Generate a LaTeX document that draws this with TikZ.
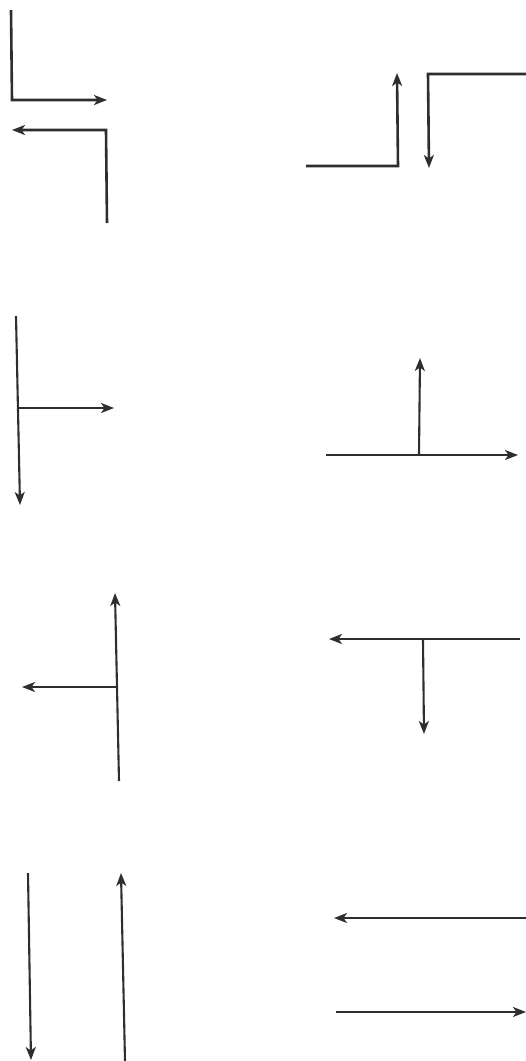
\documentclass[tikz,border=0pt]{standalone}
\usetikzlibrary{arrows.meta}

\begin{document}
\begin{tikzpicture}[
  x=1pt, y=-1pt,
  >={Stealth[length=13pt, width=10pt, inset=3.5pt]},
  % connector styles
  flow/.style={->, draw=black!82, line width=2.6pt, line join=miter},
  thinflow/.style={flow, line width=2.1pt}
]
  \useasboundingbox (0,0) rectangle (526,1061);

  % =============================================================
  % Row 1 -- corners
  % =============================================================
  % left: down then right, up then left
  \coordinate (cornAtop)   at (11,10);
  \coordinate (cornAbend)  at (12,100);
  \coordinate (cornAend)   at (107,100);
  \coordinate (cornBstart) at (107,223);
  \coordinate (cornBbend)  at (106,130);
  \coordinate (cornBend)   at (12,130);
  \draw[flow] (cornAtop) -- (cornAbend) -- (cornAend);
  \draw[flow] (cornBstart) -- (cornBbend) -- (cornBend);

  % right: right then up, left then down
  \coordinate (stepAstart) at (306,166);
  \coordinate (stepAbend)  at (398,166);
  \coordinate (stepAend)   at (397,73);
  \coordinate (stepBstart) at (526,74);
  \coordinate (stepBbend)  at (428,74);
  \coordinate (stepBend)   at (429,168);
  \draw[flow] (stepAstart) -- (stepAbend) -- (stepAend);
  \draw[flow] (stepBstart) -- (stepBbend) -- (stepBend);

  % =============================================================
  % Row 2 -- branches
  % =============================================================
  % left: vertical down, branch right
  \coordinate (teeAtop)    at (16,316);
  \coordinate (teeAbot)    at (20,505);
  \coordinate (teeAfork)   at (18,408);
  \coordinate (teeAtip)    at (114,408);
  \draw[thinflow] (teeAtop) -- (teeAbot);
  \draw[thinflow] (teeAfork) -- (teeAtip);

  % right: horizontal right, branch up
  \coordinate (teeBstart)  at (326,455);
  \coordinate (teeBend)    at (518,455);
  \coordinate (teeBfork)   at (419,455);
  \coordinate (teeBtip)    at (420,358);
  \draw[thinflow] (teeBstart) -- (teeBend);
  \draw[thinflow] (teeBfork) -- (teeBtip);

  % =============================================================
  % Row 3 -- branches
  % =============================================================
  % left: vertical up, branch left
  \coordinate (teeCbot)    at (119,781);
  \coordinate (teeCtop)    at (115,593);
  \coordinate (teeCfork)   at (117,687);
  \coordinate (teeCtip)    at (22,687);
  \draw[thinflow] (teeCbot) -- (teeCtop);
  \draw[thinflow] (teeCfork) -- (teeCtip);

  % right: horizontal left, branch down
  \coordinate (teeDstart)  at (520,639);
  \coordinate (teeDend)    at (329,639);
  \coordinate (teeDfork)   at (423,639);
  \coordinate (teeDtip)    at (424,734);
  \draw[thinflow] (teeDstart) -- (teeDend);
  \draw[thinflow] (teeDfork) -- (teeDtip);

  % =============================================================
  % Row 4 -- opposite straights
  % =============================================================
  \coordinate (downTop)    at (28,873);
  \coordinate (downBot)    at (31,1060);
  \coordinate (upBot)      at (125,1061);
  \coordinate (upTop)      at (121,873);
  \draw[thinflow] (downTop) -- (downBot);
  \draw[thinflow] (upBot) -- (upTop);

  \coordinate (leftStart)  at (526,918);
  \coordinate (leftEnd)    at (334,918);
  \coordinate (rightStart) at (336,1012);
  \coordinate (rightEnd)   at (526,1012);
  \draw[thinflow] (leftStart) -- (leftEnd);
  \draw[thinflow] (rightStart) -- (rightEnd);
\end{tikzpicture}
\end{document}
